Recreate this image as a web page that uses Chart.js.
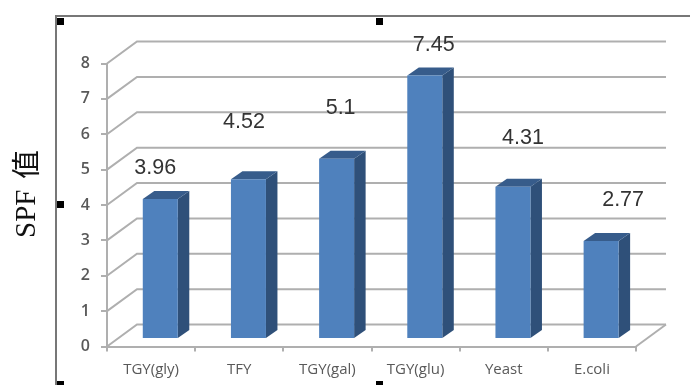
<!DOCTYPE html>
<html>
<head>
<meta charset="utf-8">
<style>html,body{margin:0;padding:0;background:#fff}#wrap{width:690px;height:385px;position:relative}</style>
<script src="https://cdn.jsdelivr.net/npm/chart.js@4/dist/chart.umd.min.js"></script>
</head>
<body>
<div id="wrap"><canvas id="c" width="690" height="385"></canvas></div>
<script>
const categories = ['TGY(gly)', 'TFY', 'TGY(gal)', 'TGY(glu)', 'Yeast', 'E.coli'];
const spfValues = [3.96, 4.52, 5.1, 7.45, 4.31, 2.77];
const valueLabels = ['3.96', '4.52', '5.1', '7.45', '4.31', '2.77'];
const axisTitleLatin = 'SPF';
const axisTitleCjk = '值';
// Hand-placed label shifts relative to the top-centre of each bar's front face
const labelShiftX = [-5, -4.5, 4, 9, 10, 22];
const labelShiftY = [-30.5, -57, -51, -30, -49, -41];

const WALL = { dx: 30, dy: -22 };       // floor depth of the back wall
const BAR_PLANE = { dx: 9.2, dy: -7.4 }; // bars stand part-way into the floor
const BAR_DEPTH = { dx: 11.5, dy: -8 };  // thickness of each column
const GRID = '#afafaf';

const walls = {
  id: 'walls',
  beforeDatasetsDraw(chart) {
    const { ctx, scales: { x, y } } = chart;
    ctx.save();
    ctx.strokeStyle = GRID;
    ctx.lineWidth = 2;
    y.ticks.forEach(t => {
      const py = y.getPixelForValue(t.value);
      ctx.beginPath();
      ctx.moveTo(x.left, py);
      ctx.lineTo(x.left + WALL.dx, py + WALL.dy);
      ctx.lineTo(x.right + WALL.dx, py + WALL.dy);
      ctx.stroke();
    });
    // Right edge of the floor
    const floor = y.getPixelForValue(0);
    ctx.beginPath();
    ctx.moveTo(x.right, floor);
    ctx.lineTo(x.right + WALL.dx, floor + WALL.dy);
    ctx.stroke();
    ctx.restore();

    // Columns: side and top faces here, the library draws the front face
    ctx.save();
    ctx.translate(BAR_PLANE.dx, BAR_PLANE.dy);
    chart.getDatasetMeta(0).data.forEach(bar => {
      const l = bar.x - bar.width / 2, r = bar.x + bar.width / 2;
      ctx.fillStyle = '#2f5079';
      ctx.beginPath();
      ctx.moveTo(r, bar.y);
      ctx.lineTo(r + BAR_DEPTH.dx, bar.y + BAR_DEPTH.dy);
      ctx.lineTo(r + BAR_DEPTH.dx, bar.base + BAR_DEPTH.dy);
      ctx.lineTo(r, bar.base);
      ctx.closePath();
      ctx.fill();
      ctx.fillStyle = '#375c8b';
      ctx.beginPath();
      ctx.moveTo(l, bar.y);
      ctx.lineTo(l + BAR_DEPTH.dx, bar.y + BAR_DEPTH.dy);
      ctx.lineTo(r + BAR_DEPTH.dx, bar.y + BAR_DEPTH.dy);
      ctx.lineTo(r, bar.y);
      ctx.closePath();
      ctx.fill();
    });
  },
  afterDatasetsDraw(chart) {
    const { ctx } = chart;
    ctx.restore();
    // Value labels above the columns
    ctx.save();
    ctx.fillStyle = '#333';
    ctx.font = '21.5px "Liberation Sans", Arial, sans-serif';
    ctx.textAlign = 'center';
    ctx.textBaseline = 'middle';
    chart.getDatasetMeta(0).data.forEach((bar, i) => {
      ctx.fillText(valueLabels[i],
        bar.x + BAR_PLANE.dx + labelShiftX[i],
        bar.y + BAR_PLANE.dy + labelShiftY[i]);
    });
    ctx.restore();
  },
  afterDraw(chart) {
    const { ctx } = chart;
    ctx.save();
    // Rotated value-axis caption, Latin and CJK parts set at their own sizes
    ctx.translate(35, 238);
    ctx.rotate(-Math.PI / 2);
    ctx.fillStyle = '#111';
    ctx.textAlign = 'left';
    ctx.textBaseline = 'alphabetic';
    ctx.font = '29px "Liberation Serif"';
    ctx.fillText(axisTitleLatin, 0, 0);
    ctx.font = '29px "Noto Sans CJK TC"';
    ctx.fillText(axisTitleCjk, 59, 2);
    ctx.restore();

    ctx.save();
    // Selection frame with its grab handles
    ctx.strokeStyle = '#777';
    ctx.lineWidth = 2;
    ctx.beginPath();
    ctx.moveTo(690, 16);
    ctx.lineTo(56, 16);
    ctx.lineTo(56, 385);
    ctx.stroke();
    ctx.fillStyle = '#000';
    [[57, 18], [376, 18], [57, 201], [57, 381], [376, 381]].forEach(([hx, hy]) => {
      ctx.fillRect(hx, hy, 7, 7);
    });
    ctx.restore();
  }
};

new Chart(document.getElementById('c'), {
  type: 'bar',
  data: {
    labels: categories,
    datasets: [{
      data: spfValues,
      backgroundColor: '#4f81bd',
      borderWidth: 0,
      barPercentage: 0.397,
      categoryPercentage: 1,
      clip: false
    }]
  },
  plugins: [walls],
  options: {
    responsive: false,
    animation: false,
    events: [],
    layout: { padding: { left: 0, right: 54, top: 63.5, bottom: 0 } },
    plugins: { legend: { display: false }, tooltip: { enabled: false } },
    scales: {
      x: {
        grid: { drawOnChartArea: false, drawTicks: true, tickLength: 5, tickColor: GRID, lineWidth: 2 },
        border: { color: GRID, width: 2 },
        ticks: { color: '#595959', padding: 9, maxRotation: 0, font: { family: '"Open Sans"', size: 15, weight: '500' } },
        afterFit(s) { s.height = 38.5; }
      },
      y: {
        min: 0,
        max: 8,
        grid: { drawOnChartArea: false, drawTicks: true, tickLength: 6, tickColor: GRID, lineWidth: 2 },
        border: { color: GRID, width: 2 },
        ticks: { stepSize: 1, color: '#595959', padding: 11, font: { family: '"Open Sans"', size: 16, weight: '600' } },
        afterFit(s) { s.width = 107; }
      }
    }
  }
});
</script>
</body>
</html>
